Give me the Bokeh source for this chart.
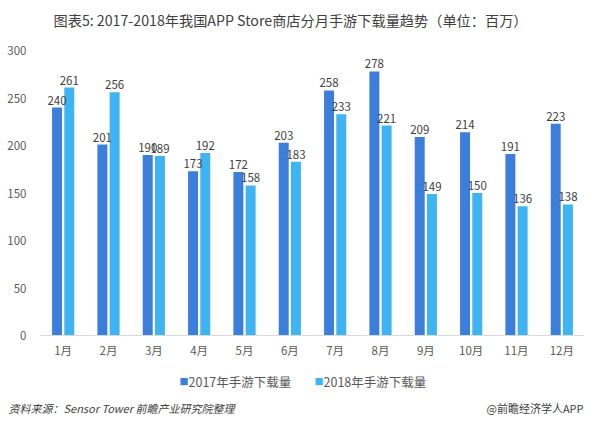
from bokeh.plotting import figure
from bokeh.layouts import column
from bokeh.models import ColumnDataSource, FactorRange, FixedTicker, Label
from bokeh.transform import dodge
from bokeh.core.properties import value
from bokeh.embed import file_html
from bokeh.resources import INLINE

months = ["1月", "2月", "3月", "4月", "5月", "6月", "7月", "8月", "9月", "10月", "11月", "12月"]
v2017 = [240, 201, 190, 173, 172, 203, 258, 278, 209, 214, 191, 223]
v2018 = [261, 256, 189, 192, 158, 183, 233, 221, 149, 150, 136, 138]
series_names = ["2017年手游下载量", "2018年手游下载量"]
y_ticks = [0, 50, 100, 150, 200, 250, 300]

title_text = "图表5: 2017-2018年我国APP Store商店分月手游下载量趋势（单位：百万）"
source_text = "资料来源：Sensor Tower 前瞻产业研究院整理"
brand_text = "@前瞻经济学人APP"

FONT = "Noto Sans CJK SC"
C17 = "#3B7EDB"
C18 = "#3EB4F2"
colors = [C17, C18]

src = ColumnDataSource(dict(
    m=months, a=v2017, b=v2018,
    at=[str(v) for v in v2017], bt=[str(v) for v in v2018],
))

W = 584
H0, H1, H2 = 40, 325, 51
LEFT = 40


def strip(h):
    f = figure(width=W, height=h, x_range=(0, W), y_range=(0, h),
               output_backend="svg", toolbar_location=None,
               x_axis_location=None, y_axis_location=None,
               min_border=0, min_border_left=0, min_border_right=0,
               min_border_top=0, min_border_bottom=0)
    f.grid.visible = False
    f.outline_line_color = None
    return f


# ---- title strip ----
p0 = strip(H0)

# ---- main chart ----
p1 = figure(width=W, height=H1, x_range=FactorRange(*months, range_padding=0),
            y_range=(0, 300), output_backend="svg", toolbar_location=None,
            min_border_left=LEFT, min_border_right=0, min_border_top=10, min_border_bottom=30)
p1.outline_line_color = None
p1.grid.visible = False

# ---- legend + footer strip ----
p2 = strip(H2)

origin = 0
if "frame_align" in p1.properties():
    for f in (p0, p1, p2):
        f.frame_align = False
else:
    origin = LEFT

p1.vbar(x=dodge("m", -0.135, range=p1.x_range), top="a", width=0.22, source=src,
        fill_color=C17, line_color=None)
p1.vbar(x=dodge("m", 0.135, range=p1.x_range), top="b", width=0.22, source=src,
        fill_color=C18, line_color=None)

for col, off in (("a", -0.135), ("b", 0.135)):
    p1.text(x=dodge("m", off, range=p1.x_range), y=col, text=col + "t", source=src,
            text_align="center", text_baseline="bottom", y_offset=-3,
            text_font=value(FONT), text_font_size="11.5px", text_color="#404040")

p1.xaxis.axis_line_color = "#D9D9D9"
p1.xaxis.major_tick_line_color = None
p1.xaxis.minor_tick_line_color = None
p1.xaxis.major_tick_out = 0
p1.xaxis.major_label_text_font = FONT
p1.xaxis.major_label_text_font_size = "11.5px"
p1.xaxis.major_label_text_color = "#595959"
p1.xaxis.major_label_standoff = 6

p1.yaxis.axis_line_color = None
p1.yaxis.major_tick_line_color = None
p1.yaxis.minor_tick_line_color = None
p1.yaxis.major_tick_out = 0
p1.yaxis.ticker = FixedTicker(ticks=y_ticks)
p1.yaxis.major_label_text_font = FONT
p1.yaxis.major_label_text_font_size = "11.5px"
p1.yaxis.major_label_text_color = "#595959"
p1.yaxis.major_label_standoff = 14

p0.add_layout(Label(x=53 - origin, y=21, x_units="screen", y_units="screen", text=title_text,
                    text_align="left", text_baseline="middle", text_font=FONT,
                    text_font_size="14.2px", text_color="#404040"))

legend_x = [179, 314]
for name, c, lx in zip(series_names, colors, legend_x):
    p2.add_layout(Label(x=lx - origin, y=35, x_units="screen", y_units="screen", text="■",
                        text_align="left", text_baseline="middle", text_font=FONT,
                        text_font_size="9px", text_color=c))
    p2.add_layout(Label(x=lx + 9 - origin, y=35, x_units="screen", y_units="screen", text=name,
                        text_align="left", text_baseline="middle", text_font=FONT,
                        text_font_size="12.5px", text_color="#595959"))

p2.add_layout(Label(x=8 - origin, y=1, x_units="screen", y_units="screen", text=source_text,
                    text_align="left", text_baseline="bottom", text_font=FONT,
                    text_font_style="italic", text_font_size="11px", text_color="#404040"))
p2.add_layout(Label(x=583 - origin, y=1, x_units="screen", y_units="screen", text=brand_text,
                    text_align="right", text_baseline="bottom", text_font=FONT,
                    text_font_size="11px", text_color="#404040"))

p = column(p0, p1, p2, spacing=0)
open("out.html", "w").write(file_html(p, INLINE))
